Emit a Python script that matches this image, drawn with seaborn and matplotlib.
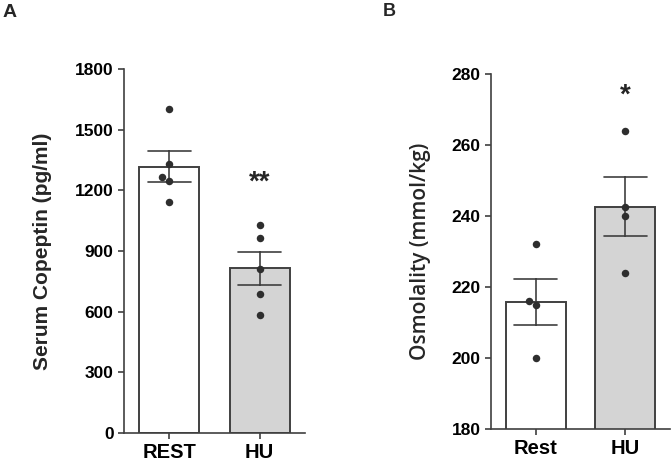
import matplotlib
matplotlib.use("Agg")
import matplotlib.pyplot as plt
import seaborn as sns
import pandas as pd

# values
groups_a = ["REST", "HU"]
rest_copeptin = [1602, 1331, 1266, 1247, 1143]
hu_copeptin = [1028, 962, 810, 685, 586]
yticks_a = [0, 300, 600, 900, 1200, 1500, 1800]

groups_b = ["Rest", "HU"]
rest_osm = [232, 216, 215, 200]
hu_osm = [264, 242.6, 240, 224]
yticks_b = [180, 200, 220, 240, 260, 280]

sns.set_style("ticks")
plt.rcParams["font.family"] = ["Liberation Sans", "DejaVu Sans"]
plt.rcParams["font.weight"] = "bold"

LINE = "#404040"
DOT = "#2e2e2e"
FILLS = ["white", "#d4d4d4"]


def make_frame(labels, first, second):
    return pd.DataFrame({
        "group": [labels[0]] * len(first) + [labels[1]] * len(second),
        "value": list(first) + list(second),
    })


def draw_panel(ax, df, order, yticks):
    sns.barplot(data=df, x="group", y="value", hue="group", order=order,
                hue_order=order, palette=FILLS, errorbar="se", capsize=0.48,
                err_kws={"linewidth": 1.2, "color": LINE}, edgecolor=LINE,
                linewidth=1.4, width=0.667, legend=False, ax=ax)
    sns.swarmplot(data=df, x="group", y="value", order=order, color=DOT,
                  size=5.4, ax=ax)
    ax.set_xlim(-0.5, 1.5)
    ax.set_ylim(yticks[0], yticks[-1])
    ax.set_yticks(yticks)
    ax.set_xlabel("")
    sns.despine(ax=ax)
    for side in ["left", "bottom"]:
        ax.spines[side].set_color(LINE)
        ax.spines[side].set_linewidth(1.2)
    ax.tick_params(axis="y", colors=LINE, labelcolor="black", length=4,
                   width=1.2, labelsize=12.5)
    ax.tick_params(axis="x", colors=LINE, labelcolor="black", length=4,
                   width=1.2, labelsize=14.5)
    for lab in ax.get_xticklabels() + ax.get_yticklabels():
        lab.set_fontweight("bold")


fig = plt.figure(figsize=(6.71, 4.61), dpi=100)

ax_a = fig.add_axes([0.1848, 0.0607, 0.2697, 0.7896])
draw_panel(ax_a, make_frame(groups_a, rest_copeptin, hu_copeptin), groups_a, yticks_a)
ax_a.set_ylabel("Serum Copeptin (pg/ml)", fontsize=15, fontweight="bold")
ax_a.yaxis.set_label_coords(-0.40, 0.5)
ax_a.text(1, 1240, "**", ha="center", va="center", fontsize=20, fontweight="bold")

ax_b = fig.add_axes([0.7317, 0.0694, 0.2668, 0.7701])
draw_panel(ax_b, make_frame(groups_b, rest_osm, hu_osm), groups_b, yticks_b)
ax_b.set_ylabel("Osmolality (mmol/kg)", fontsize=15, fontweight="semibold",
                family=["Open Sans", "DejaVu Sans"])
ax_b.yaxis.set_label_coords(-0.335, 0.5)
ax_b.text(1, 274, "*", ha="center", va="center", fontsize=20, fontweight="bold")

fig.text(0.004, 0.972, "A", fontsize=14, fontweight="bold", va="center")
fig.text(0.571, 0.975, "B", fontsize=13, fontweight="bold", va="center")

fig.savefig("out.png", dpi=100)
